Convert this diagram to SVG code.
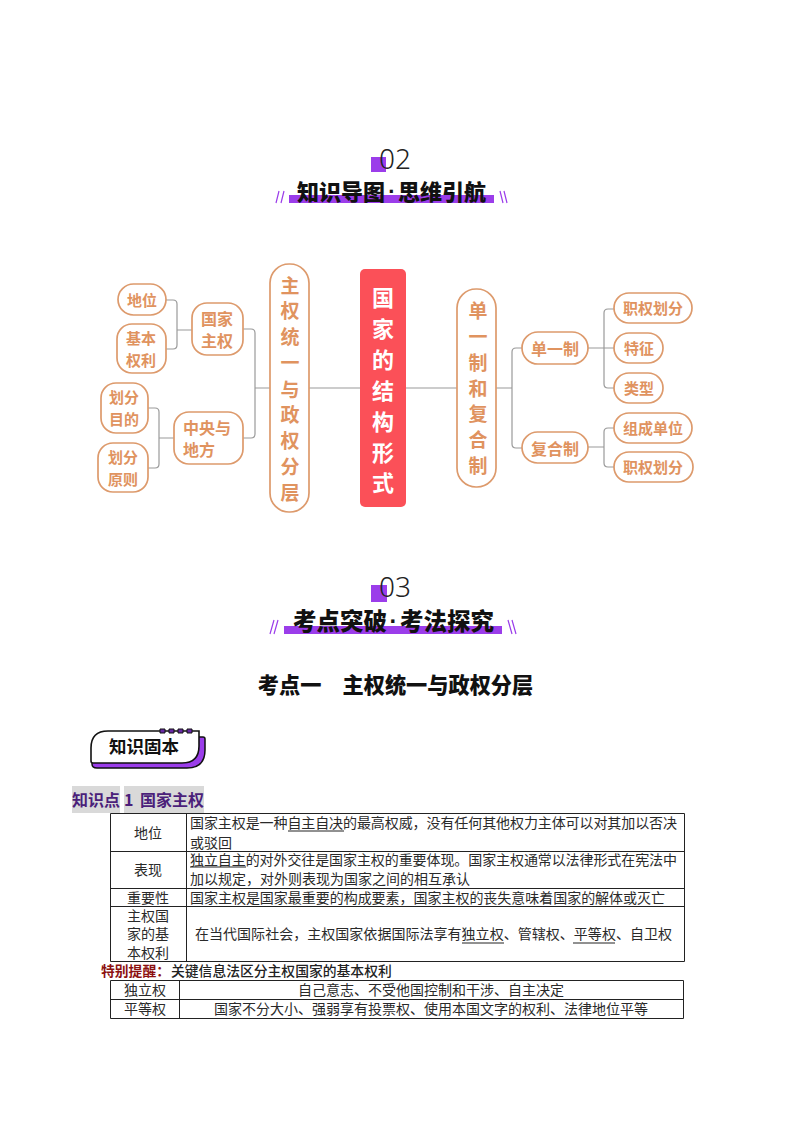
<svg xmlns="http://www.w3.org/2000/svg" width="794" height="1123" viewBox="0 0 794 1123">
<style>
text{font-family:"Noto Sans CJK SC","Noto Sans",sans-serif}
.n rect{fill:#fff;stroke:#dd9a6c;stroke-width:1.7}
.n text{fill:#e0935f;font-size:15px;font-weight:700;text-anchor:middle}
.n .b{font-size:16px}
.v text{font-size:19px}
.c{fill:none;stroke:#9a9a9a;stroke-width:1.2}
.h{font-weight:900;fill:#111}
.h .d{font-family:"Liberation Sans",sans-serif;font-weight:700;text-anchor:middle}
.num{font-size:28px;font-family:"Noto Sans",sans-serif;font-weight:300;fill:#222}
.bar{fill:#9b3dea}
.sl{fill:none;stroke:#9b3dea;stroke-width:1.2}
.t{font-size:14px;fill:#2a2a2a}
.m{text-anchor:middle}
.g{fill:none;stroke:#222;stroke-width:1}
.u{stroke:#222;stroke-width:1}
</style>
<g id="header-02">
<rect x="371" y="157" width="15" height="15" class="bar"/>
<text x="379" y="169" class="num">02</text>
<rect x="289" y="195" width="205" height="8" class="bar"/>
<g class="h" font-size="22"><text x="297" y="200">知识导图</text><text class="d" x="392" y="199">·</text><text x="398" y="200">思维引航</text></g>
<path class="sl" d="M279 191l-3 12M284 191l-3 12M500 191l3 12M504 191l3 12"/>
</g>
<g id="connectors">
<path class="c" d="M309 388H360M406 388H457"/>
<path class="c" d="M270 388H255M243 329H251q4 0 4 4V434q0 4-4 4H243"/>
<path class="c" d="M192 330H177M166 300H173q4 0 4 4V345q0 4-4 4H166"/>
<path class="c" d="M174 438H159M148 408H155q4 0 4 4V464q0 4-4 4H148"/>
<path class="c" d="M496 388H512M522 348H516q-4 0-4 4V444q0 4 4 4H522"/>
<path class="c" d="M588 348H614M614 309H608q-4 0-4 4V384q0 4 4 4H614"/>
<path class="c" d="M588 447H604M614 428H608q-4 0-4 4V463q0 4 4 4H614"/>
</g>
<g id="n-diwei" class="n"><rect x="118" y="284" width="48" height="31" rx="15.500"/><text x="142" y="306">地位</text></g>
<g id="n-jibenquanli" class="n"><rect x="117" y="324" width="49" height="49" rx="15"/><text x="141" y="344">基本</text><text x="141" y="366">权利</text></g>
<g id="n-guojiazhuquan" class="n"><rect x="192" y="303" width="51" height="52" rx="15"/><text class="b" x="217" y="325">国家</text><text class="b" x="217" y="347">主权</text></g>
<g id="n-mudi" class="n"><rect x="101" y="383" width="47" height="50" rx="15"/><text x="124" y="403">划分</text><text x="124" y="425">目的</text></g>
<g id="n-yuanze" class="n"><rect x="98" y="443" width="50" height="49" rx="15"/><text x="123" y="463">划分</text><text x="123" y="485">原则</text></g>
<g id="n-zhongyang" class="n"><rect x="174" y="412" width="69" height="52" rx="15"/><text class="b" x="207" y="434">中央与</text><text class="b" x="199" y="456">地方</text></g>
<g id="n-left" class="n v"><rect x="270" y="264" width="39" height="248" rx="19"/>
<text x="290" y="293">主</text><text x="290" y="318">权</text><text x="290" y="344">统</text><text x="290" y="370">一</text><text x="290" y="397">与</text><text x="290" y="422">政</text><text x="290" y="448">权</text><text x="290" y="474">分</text><text x="290" y="500">层</text></g>
<g id="n-center">
<rect x="360" y="269" width="46" height="238" rx="5" fill="#fb5058"/>
<g fill="#fff" font-size="22" font-weight="700" text-anchor="middle"><text x="383" y="306">国</text><text x="383" y="337">家</text><text x="383" y="368">的</text><text x="383" y="399">结</text><text x="383" y="430">构</text><text x="383" y="461">形</text><text x="383" y="491">式</text></g>
</g>
<g id="n-right" class="n v"><rect x="457" y="289" width="39" height="198" rx="19"/>
<text x="478" y="318">单</text><text x="478" y="344">一</text><text x="478" y="370">制</text><text x="478" y="396">和</text><text x="478" y="421">复</text><text x="478" y="447">合</text><text x="478" y="473">制</text></g>
<g id="n-danyi" class="n"><rect x="522" y="332" width="66" height="32" rx="16"/><text class="b" x="555" y="355">单一制</text></g>
<g id="n-fuhe" class="n"><rect x="522" y="432" width="66" height="31" rx="15.500"/><text class="b" x="555" y="455">复合制</text></g>
<g id="n-zhiquan1" class="n"><rect x="614" y="293" width="78" height="30" rx="15"/><text x="653" y="314">职权划分</text></g>
<g id="n-tezheng" class="n"><rect x="614" y="333" width="49" height="30" rx="15"/><text x="639" y="354">特征</text></g>
<g id="n-leixing" class="n"><rect x="614" y="373" width="49" height="30" rx="15"/><text x="639" y="394">类型</text></g>
<g id="n-zucheng" class="n"><rect x="614" y="413" width="78" height="30" rx="15"/><text x="653" y="434">组成单位</text></g>
<g id="n-zhiquan2" class="n"><rect x="614" y="452" width="79" height="30" rx="15"/><text x="653" y="473">职权划分</text></g>
<g id="header-03">
<rect x="371" y="585" width="16" height="17" class="bar"/>
<text x="379" y="597" class="num">03</text>
<rect x="284" y="626" width="218" height="8" class="bar"/>
<g class="h" font-size="23.500"><text x="293" y="630">考点突破</text><text class="d" x="393.500" y="629">·</text><text x="400" y="630">考法探究</text></g>
<path class="sl" d="M274 620l-4 14M278 620l-4 14M508 620l4 14M512 620l4 14"/>
</g>
<text x="395.500" y="693" font-size="21.200" font-weight="900" fill="#111" text-anchor="middle">考点一　主权统一与政权分层</text>
<g id="badge">
<path d="M99 737H203q2 0 2 2V750q0 18-18 18H97q-5 0-5-4V760Z" fill="#9b3dea" stroke="#111" stroke-width="1.500"/>
<path d="M108 731H199V746q0 17-17 17H93q-2 0-2-2V748q0-17 17-17Z" fill="#fff" stroke="#111" stroke-width="1.600"/>
<path d="M160 729h5v4h-5zM169 729h5v4h-5zM178 729h5v4h-5zM187 729h5v4h-5z" fill="#6a2aa8" stroke="#111" stroke-width="1"/>
<text x="144" y="753" font-size="17.500" font-weight="700" fill="#111" text-anchor="middle">知识固本</text>
</g>
<g id="section-title">
<rect x="72" y="786" width="48" height="27" fill="#d9d9d9"/><rect x="124" y="786" width="80" height="27" fill="#d9d9d9"/>
<g fill="#4b1f7a" font-weight="700" font-size="16"><text x="72" y="806">知识点</text><text x="124" y="806" font-family="Liberation Serif,serif">1</text><text x="140" y="806">国家主权</text></g>
</g>
<g id="table-1">
<path class="g" d="M110.500 813.500H684.500V961.500H110.500ZM110.500 851.500H684.500M110.500 888.500H684.500M110.500 906.500H684.500M186.500 813.500V961.500"/>
<text class="t m" x="148" y="838">地位</text>
<text class="t" x="190" y="828" textLength="487">国家主权是一种自主自决的最高权威，没有任何其他权力主体可以对其加以否决</text>
<text class="t" x="190" y="848">或驳回</text>
<text class="t m" x="148" y="875">表现</text>
<text class="t" x="190" y="865" textLength="487">独立自主的对外交往是国家主权的重要体现。国家主权通常以法律形式在宪法中</text>
<text class="t" x="190" y="884">加以规定，对外则表现为国家之间的相互承认</text>
<text class="t m" x="148" y="903">重要性</text>
<text class="t" x="190" y="903" textLength="475">国家主权是国家最重要的构成要素，国家主权的丧失意味着国家的解体或灭亡</text>
<text class="t m" x="148" y="921">主权国</text><text class="t m" x="148" y="939">家的基</text><text class="t m" x="148" y="958">本权利</text>
<text class="t" x="195" y="939" textLength="477">在当代国际社会，主权国家依据国际法享有独立权、管辖权、平等权、自卫权</text>
<path class="u" d="M288 831H344M190 867H246M462 943H504M573 943H615"/>
</g>
<g id="tip"><text x="101" y="976" font-size="13.800" font-weight="700" fill="#8c1010">特别提醒：</text><text x="171" y="976" font-size="13.800" font-weight="500" fill="#222">关键信息法区分主权国家的基本权利</text></g>
<g id="table-2">
<path class="g" d="M110.500 980.500H683.500V1018.500H110.500ZM110.500 999.500H683.500M179.500 980.500V1018.500"/>
<text class="t m" x="145" y="995">独立权</text>
<text class="t m" x="431" y="995">自己意志、不受他国控制和干涉、自主决定</text>
<text class="t m" x="145" y="1014">平等权</text>
<text class="t m" x="431" y="1014">国家不分大小、强弱享有投票权、使用本国文字的权利、法律地位平等</text>
</g>
</svg>
